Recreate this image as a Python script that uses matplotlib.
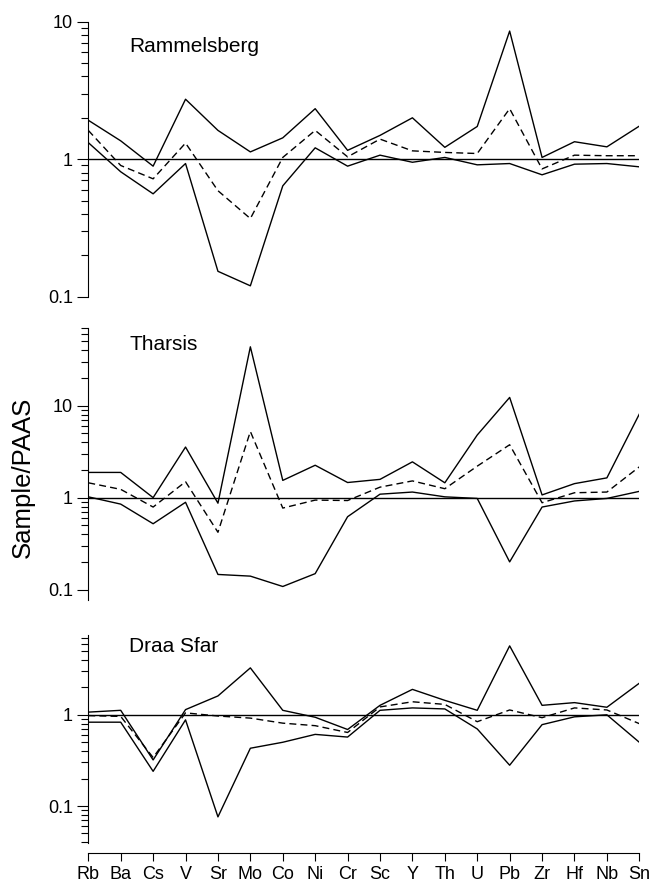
"""
Trace-element spider plots normalised to PAAS, three deposits
(max / mean / min per element), log scale.
"""

import numpy as np
import matplotlib
matplotlib.use('Agg')
import matplotlib.pyplot as plt
from matplotlib.ticker import FixedLocator, FixedFormatter, NullFormatter

plt.rc('font', family=['Liberation Sans', 'DejaVu Sans'])

elements = ['Rb', 'Ba', 'Cs', 'V', 'Sr', 'Mo', 'Co', 'Ni', 'Cr',
            'Sc', 'Y', 'Th', 'U', 'Pb', 'Zr', 'Hf', 'Nb', 'Sn']

# Rammelsberg
ram_max  = [1.92, 1.36, 0.89, 2.73, 1.62, 1.13, 1.43, 2.33, 1.16,
            1.49, 2.00, 1.22, 1.73, 8.55, 1.03, 1.34, 1.23, 1.74]
ram_mean = [1.62, 0.90, 0.72, 1.31, 0.59, 0.37, 1.03, 1.62, 1.04,
            1.40, 1.15, 1.12, 1.10, 2.33, 0.85, 1.07, 1.06, 1.06]
ram_min  = [1.32, 0.81, 0.56, 0.93, 0.153, 0.12, 0.64, 1.21, 0.89,
            1.07, 0.95, 1.03, 0.91, 0.93, 0.77, 0.92, 0.93, 0.88]

# Tharsis
tha_max  = [1.88, 1.88, 1.00, 3.55, 0.87, 43.7, 1.54, 2.25, 1.46,
            1.58, 2.45, 1.45, 4.8, 12.3, 1.07, 1.42, 1.64, 8.1]
tha_mean = [1.45, 1.23, 0.79, 1.49, 0.42, 5.24, 0.77, 0.94, 0.93,
            1.30, 1.52, 1.25, 2.2, 3.76, 0.88, 1.13, 1.15, 2.16]
tha_min  = [1.02, 0.85, 0.52, 0.89, 0.146, 0.140, 0.108, 0.149, 0.62,
            1.09, 1.15, 1.02, 0.98, 0.20, 0.79, 0.92, 0.98, 1.17]

# Draa Sfar
dra_max  = [1.07, 1.12, 0.32, 1.14, 1.61, 3.27, 1.12, 0.94, 0.69,
            1.27, 1.90, 1.44, 1.12, 5.7, 1.27, 1.36, 1.21, 2.22]
dra_mean = [0.98, 0.96, 0.34, 1.05, 0.97, 0.92, 0.81, 0.76, 0.64,
            1.22, 1.39, 1.30, 0.84, 1.13, 0.93, 1.19, 1.13, 0.80]
dra_min  = [0.83, 0.83, 0.24, 0.88, 0.076, 0.43, 0.50, 0.61, 0.57,
            1.12, 1.19, 1.16, 0.70, 0.28, 0.78, 0.95, 1.00, 0.50]

sites  = ['Rammelsberg', 'Tharsis', 'Draa Sfar']
series = [(ram_max, ram_mean, ram_min),
          (tha_max, tha_mean, tha_min),
          (dra_max, dra_mean, dra_min)]
ylims  = [(0.1, 10.0), (0.077, 70.0), (0.039, 7.5)]

# figure geometry in pixels (dpi 100)
W, H   = 652., 885.
left   = 88.3
right  = 639.3
boxes  = [(21.7, 296.7), (328.0, 600.0), (635.0, 843.3)]   # top, bottom
title_base = [51.7, 350.0, 651.7]
ftsize = 13

fig = plt.figure(figsize=(W/100., H/100.), dpi=100)
x = np.arange(len(elements))

for i, site in enumerate(sites):
    top, bot = boxes[i]
    ax = fig.add_axes([left/W, 1.0-bot/H, (right-left)/W, (bot-top)/H])
    vmax, vmean, vmin = series[i]
    ax.plot(x, vmax, color='k', lw=1.0)
    ax.plot(x, vmean, color='k', lw=1.0, dashes=(5, 3))
    ax.plot(x, vmin, color='k', lw=1.0)
    ax.axhline(1.0, color='k', lw=1.0)

    ax.set_yscale('log')
    ax.set_ylim(*ylims[i])
    ax.set_xlim(0, len(elements)-1)

    for s in ['top', 'right']:
        ax.spines[s].set_visible(False)
    ax.spines['left'].set_linewidth(0.8)

    major = [0.1, 1, 10]
    ax.yaxis.set_major_locator(FixedLocator(major))
    ax.yaxis.set_major_formatter(FixedFormatter(['0.1', '1', '10']))
    lo = 0.1 if i == 1 else ylims[i][0]
    minor = [m*10.0**e for e in range(-2, 2) for m in range(2, 10)]
    minor = [v for v in minor if lo <= v <= ylims[i][1]]
    ax.yaxis.set_minor_locator(FixedLocator(minor))
    ax.yaxis.set_minor_formatter(NullFormatter())
    ax.tick_params(axis='y', which='major', direction='out', length=8,
                   width=0.8, labelsize=ftsize, pad=3)
    ax.tick_params(axis='y', which='minor', direction='out', length=5,
                   width=0.8)

    if i < 2:
        ax.spines['bottom'].set_visible(False)
        ax.set_xticks([])
    else:
        ax.spines['bottom'].set_position(('outward', 7.2))
        ax.spines['bottom'].set_linewidth(0.8)
        ax.set_xticks(x)
        ax.set_xticklabels(elements)
        ax.tick_params(axis='x', direction='out', length=5.5, width=0.8,
                       labelsize=ftsize, pad=3.5)

    fig.text(129.0/W, 1.0-title_base[i]/H, site, fontsize=15,
             ha='left', va='baseline')

fig.text(23.0/W, 1.0-477.0/H, 'Sample/PAAS', fontsize=18.5,
         rotation=90, ha='center', va='center')

plt.savefig('out.png', dpi=100)
